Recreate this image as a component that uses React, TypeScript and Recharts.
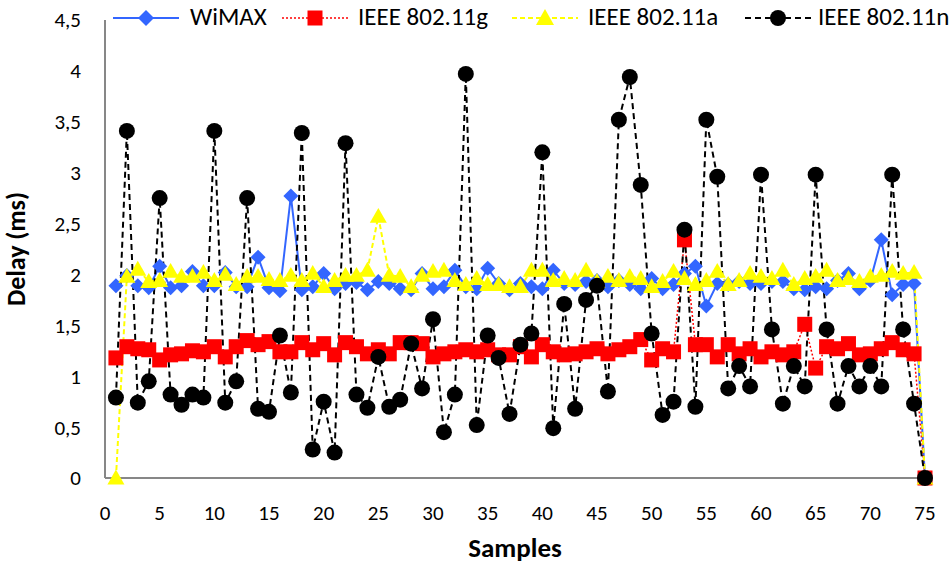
import React from "react";
import { LineChart, Line, XAxis, YAxis } from "recharts";

const samples: number[] = Array.from({ length: 75 }, (_, i) => i + 1);

const wimax: number[] = [
  1.89, 1.99, 1.89, 1.87, 2.08, 1.87, 1.89, 2.03, 1.89, 1.89,
  2.02, 1.88, 1.88, 2.17, 1.87, 1.84, 2.77, 1.85, 1.88, 2.01,
  1.86, 1.91, 1.92, 1.85, 1.93, 1.91, 1.86, 1.85, 2.01, 1.86,
  1.88, 2.04, 1.88, 1.86, 2.06, 1.91, 1.85, 1.91, 1.88, 1.86,
  2.04, 1.91, 1.9, 1.93, 1.94, 1.88, 1.94, 1.9, 1.86, 1.96,
  1.86, 1.9, 2.01, 2.08, 1.69, 1.91, 1.9, 1.93, 1.91, 1.91,
  1.93, 1.93, 1.86, 1.85, 1.88, 1.86, 1.94, 2.01, 1.86, 1.94,
  2.34, 1.8, 1.9, 1.91, 0,
];

const ieee80211g: number[] = [
  1.18, 1.29, 1.27, 1.26, 1.16, 1.21, 1.22, 1.25, 1.24, 1.29,
  1.19, 1.29, 1.35, 1.31, 1.34, 1.24, 1.24, 1.33, 1.26, 1.32,
  1.21, 1.33, 1.29, 1.22, 1.26, 1.22, 1.33, 1.33, 1.32, 1.19,
  1.22, 1.24, 1.26, 1.24, 1.26, 1.21, 1.21, 1.29, 1.19, 1.31,
  1.24, 1.21, 1.22, 1.24, 1.27, 1.22, 1.26, 1.29, 1.36, 1.16,
  1.27, 1.24, 2.34, 1.31, 1.31, 1.19, 1.31, 1.22, 1.27, 1.19,
  1.24, 1.21, 1.24, 1.51, 1.08, 1.29, 1.27, 1.32, 1.21, 1.22,
  1.27, 1.33, 1.26, 1.22, 0,
];

const ieee80211a: number[] = [
  0, 1.98, 2.05, 1.93, 1.94, 2.03, 1.98, 1.98, 2.02, 1.94,
  2.0, 1.9, 1.98, 1.98, 1.95, 1.94, 1.99, 1.94, 2.01, 1.88,
  1.94, 1.99, 1.99, 2.04, 2.57, 1.99, 1.98, 1.88, 1.99, 2.03,
  2.04, 1.94, 1.9, 1.96, 1.9, 1.9, 1.88, 1.88, 2.04, 2.04,
  1.94, 1.96, 1.94, 2.04, 1.93, 1.98, 1.94, 1.98, 1.96, 1.88,
  1.93, 2.03, 1.96, 1.9, 1.94, 2.03, 1.9, 1.94, 2.01, 1.98,
  1.96, 2.04, 1.9, 1.96, 1.98, 2.04, 1.94, 1.96, 1.93, 1.98,
  1.99, 2.03, 2.01, 2.02, 0,
];

const ieee80211n: number[] = [
  0.79, 3.41, 0.74, 0.95, 2.75, 0.82, 0.72, 0.82, 0.79, 3.41,
  0.74, 0.95, 2.75, 0.68, 0.65, 1.4, 0.84, 3.39, 0.28, 0.75,
  0.25, 3.29, 0.82, 0.69, 1.19, 0.7, 0.77, 1.32, 0.88, 1.56,
  0.45, 0.82, 3.97, 0.52, 1.4, 1.18, 0.63, 1.31, 1.42, 3.2,
  0.49, 1.71, 0.68, 1.75, 1.89, 0.85, 3.52, 3.94, 2.88, 1.42,
  0.62, 0.75, 2.44, 0.7, 3.52, 2.96, 0.88, 1.1, 0.9, 2.98,
  1.46, 0.73, 1.1, 0.9, 2.98, 1.46, 0.73, 1.1, 0.9, 1.1,
  0.9, 2.98, 1.46, 0.73, 0,
];

const xTicks: number[] = [0, 5, 10, 15, 20, 25, 30, 35, 40, 45, 50, 55, 60, 65, 70, 75];
const yTicks: number[] = [0, 0.5, 1, 1.5, 2, 2.5, 3, 3.5, 4, 4.5];
const seriesNames: string[] = ["WiMAX", "IEEE 802.11g", "IEEE 802.11a", "IEEE 802.11n"];

const data = samples.map((s, i) => ({
  x: s,
  wimax: wimax[i],
  g: ieee80211g[i],
  a: ieee80211a[i],
  n: ieee80211n[i],
}));

const FONT = "Carlito, Lato, sans-serif";

const BLUE = "#3366ff";
const RED = "#ff0000";
const YELLOW = "#ffff00";
const BLACK = "#000000";

const Diamond = (props: any) => {
  const { cx, cy } = props;
  if (cx == null || cy == null) return null;
  const r = 7.5;
  return <polygon points={`${cx},${cy - r} ${cx + r},${cy} ${cx},${cy + r} ${cx - r},${cy}`} fill={BLUE} />;
};
const Square = (props: any) => {
  const { cx, cy } = props;
  if (cx == null || cy == null) return null;
  const r = 7.5;
  return <rect x={cx - r} y={cy - r} width={2 * r} height={2 * r} fill={RED} />;
};
const Triangle = (props: any) => {
  const { cx, cy } = props;
  if (cx == null || cy == null) return null;
  const r = 8.5;
  return <polygon points={`${cx},${cy - r} ${cx + r},${cy + r * 0.75} ${cx - r},${cy + r * 0.75}`} fill={YELLOW} />;
};
const Circle = (props: any) => {
  const { cx, cy } = props;
  if (cx == null || cy == null) return null;
  return <circle cx={cx} cy={cy} r={8} fill={BLACK} />;
};

const LegendIcon = ({ kind }: { kind: number }) => {
  const w = 66;
  const h = 20;
  const c = w / 2;
  const m = h / 2;
  let line: React.ReactNode = null;
  let marker: React.ReactNode = null;
  if (kind === 0) {
    line = <line x1={0} y1={m} x2={w} y2={m} stroke={BLUE} strokeWidth={2} />;
    marker = <polygon points={`${c},${m - 8} ${c + 8},${m} ${c},${m + 8} ${c - 8},${m}`} fill={BLUE} />;
  } else if (kind === 1) {
    line = <line x1={0} y1={m} x2={w} y2={m} stroke={RED} strokeWidth={1.5} strokeDasharray="2 2" />;
    marker = <rect x={c - 7.5} y={m - 7.5} width={15} height={15} fill={RED} />;
  } else if (kind === 2) {
    line = <line x1={0} y1={m} x2={w} y2={m} stroke={YELLOW} strokeWidth={2} strokeDasharray="5 3" />;
    marker = <polygon points={`${c},${m - 9} ${c + 9},${m + 7} ${c - 9},${m + 7}`} fill={YELLOW} />;
  } else {
    line = <line x1={0} y1={m} x2={w} y2={m} stroke={BLACK} strokeWidth={2} strokeDasharray="6 4" />;
    marker = <circle cx={c} cy={m} r={8} fill={BLACK} />;
  }
  return (
    <svg width={w} height={h} style={{ display: "block" }}>
      {line}
      {marker}
    </svg>
  );
};

const legendIconLeft: number[] = [113, 282, 512, 745];
const legendTextLeft: number[] = [190, 358, 588, 818];

const fmt = (v: number) => String(v).replace(".", ",");

export default function App() {
  return (
    <div style={{ position: "absolute", left: 0, top: 0, width: 952, height: 563, background: "#fff" }}>
      <LineChart
        width={952}
        height={563}
        data={data}
        margin={{ top: 20, right: 27, left: 0, bottom: 0 }}
      >
        <XAxis
          dataKey="x"
          type="number"
          domain={[0, 75]}
          ticks={xTicks}
          tickLine={false}
          tickSize={0}
          tickMargin={27}
          axisLine={{ stroke: "#878787", strokeWidth: 2 }}
          height={85}
          tick={{ fill: "#000", fontSize: 21, fontFamily: FONT }}
          label={{ value: "Samples", position: "insideBottom", offset: 6, fill: "#000", fontSize: 27, fontWeight: "bold", fontFamily: FONT }}
          interval={0}
        />
        <YAxis
          type="number"
          domain={[0, 4.5]}
          ticks={yTicks}
          tickFormatter={fmt}
          tickLine={false}
          tickSize={0}
          tickMargin={24}
          width={105}
          axisLine={{ stroke: "#878787", strokeWidth: 2 }}
          tick={{ fill: "#000", fontSize: 21, fontFamily: FONT }}
          label={{ value: "Delay (ms)", angle: -90, position: "insideLeft", offset: 16, fill: "#000", fontSize: 26, fontWeight: "bold", fontFamily: FONT, style: { textAnchor: "middle" } }}
          interval={0}
        />
        <Line dataKey="wimax" stroke={BLUE} strokeWidth={2} dot={<Diamond />} activeDot={false} isAnimationActive={false} />
        <Line dataKey="g" stroke={RED} strokeWidth={1.5} strokeDasharray="2 2" dot={<Square />} activeDot={false} isAnimationActive={false} />
        <Line dataKey="a" stroke={YELLOW} strokeWidth={2} strokeDasharray="5 3" dot={<Triangle />} activeDot={false} isAnimationActive={false} />
        <Line dataKey="n" stroke={BLACK} strokeWidth={2} strokeDasharray="6 4" dot={<Circle />} activeDot={false} isAnimationActive={false} />
      </LineChart>
      {seriesNames.map((name, i) => (
        <React.Fragment key={name}>
          <div style={{ position: "absolute", left: legendIconLeft[i], top: 8 }}>
            <LegendIcon kind={i} />
          </div>
          <div
            style={{
              position: "absolute",
              left: legendTextLeft[i],
              top: 2,
              fontFamily: FONT,
              fontSize: 25,
              lineHeight: "30px",
              color: "#000",
              whiteSpace: "nowrap",
            }}
          >
            {name}
          </div>
        </React.Fragment>
      ))}
    </div>
  );
}
